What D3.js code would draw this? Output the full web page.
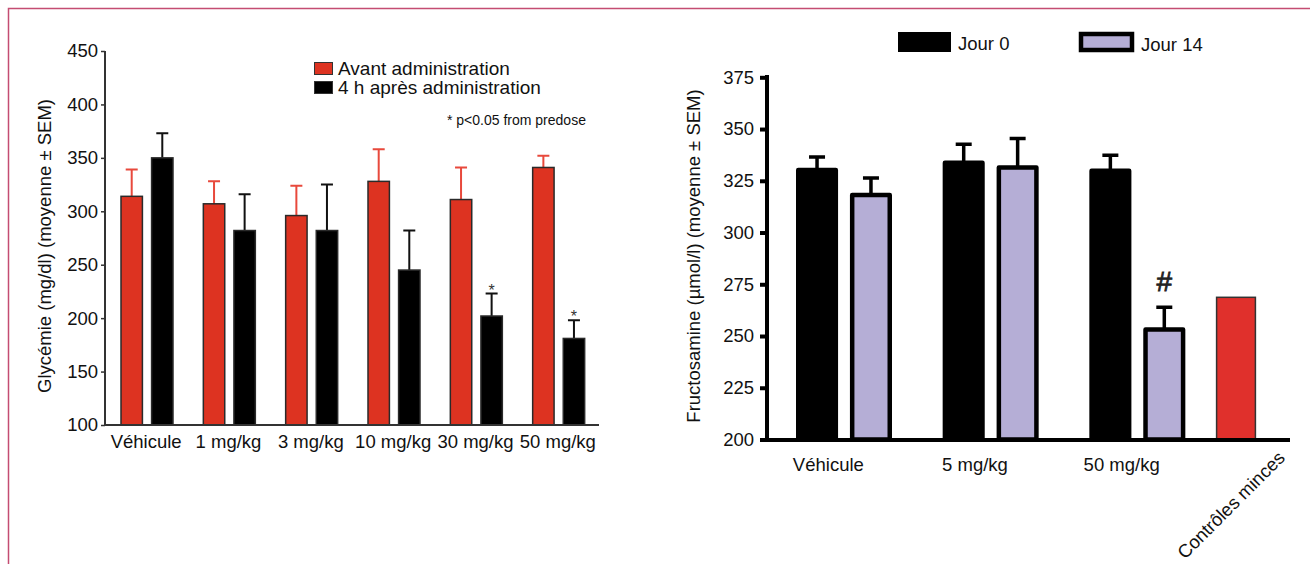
<!DOCTYPE html>
<html>
<head>
<meta charset="utf-8">
<script src="https://cdn.jsdelivr.net/npm/d3@7"></script>
<style>
  html, body { margin: 0; padding: 0; background: #fff; }
  svg { display: block; font-family: "Liberation Sans", Arial, Helvetica, sans-serif; }
</style>
</head>
<body>
<svg id="chart" width="1310" height="564"></svg>
<script>
// ---------- Left chart data ----------
const leftCategories = ["Véhicule", "1 mg/kg", "3 mg/kg", "10 mg/kg", "30 mg/kg", "50 mg/kg"];
const leftSeries = ["Avant administration", "4 h après administration"];
const avantValues = [314, 307, 296, 328, 311, 341];
const avantSem = [25, 21, 28, 30, 30, 11];
const apresValues = [350, 282, 282, 245, 202, 181];
const apresSem = [23, 34, 43, 37, 21, 17];
const apresSignif = [false, false, false, false, true, true];
const leftTicks = [100, 150, 200, 250, 300, 350, 400, 450];
const leftNote = "* p<0.05 from predose";
const leftYTitle = "Glycémie (mg/dl) (moyenne ± SEM)";

// ---------- Right chart data ----------
const rightCategories = ["Véhicule", "5 mg/kg", "50 mg/kg"];
const rightSeries = ["Jour 0", "Jour 14"];
const jour0Values = [330.2, 333.7, 329.9];
const jour0Sem = [6.3, 9, 7.4];
const jour14Values = [318.1, 331.4, 253.1];
const jour14Sem = [8.3, 14, 10.8];
const jour14Signif = [false, false, true];
const controlCategory = ["Contrôles minces"];
const controlValues = [268.7];
const rightTicks = [200, 225, 250, 275, 300, 325, 350, 375];
const rightYTitle = "Fructosamine (µmol/l) (moyenne ± SEM)";

// ---------- Styles ----------
const RED = "#dd3321", RED_ERR = "#e8493c", LAV = "#b5aed6", CTRL_RED = "#e0302c";
const FS = 18.5;

const svg = d3.select("#chart");

// frame border
svg.append("path")
  .attr("d", "M8.5,564 L8.5,8.5 L1310,8.5")
  .attr("fill", "none").attr("stroke", "#c44d72").attr("stroke-width", 1.5);

// =================== LEFT CHART ===================
(function () {
  const y = d3.scaleLinear().domain([100, 450]).range([425, 51]);
  const x0 = d3.scaleBand().domain(leftCategories).range([105, 599]).padding(0);
  const x1 = d3.scaleBand().domain(leftSeries).range([16, 68]).paddingInner(0.3).paddingOuter(0);
  const g = svg.append("g");

  const data = leftCategories.map((c, i) => ({
    cat: c,
    bars: [
      { s: leftSeries[0], v: avantValues[i], e: avantSem[i], fill: RED, err: RED_ERR, sig: false },
      { s: leftSeries[1], v: apresValues[i], e: apresSem[i], fill: "#000", err: "#111", sig: apresSignif[i] }
    ]
  }));

  const grp = g.selectAll("g.grp").data(data).join("g")
    .attr("transform", d => `translate(${x0(d.cat)},0)`);

  grp.selectAll("path.err").data(d => d.bars).join("path")
    .attr("d", b => {
      const cx = x1(b.s) + x1.bandwidth() / 2;
      const yt = y(b.v + b.e), yb = y(b.v);
      return `M${cx},${yb} L${cx},${yt} M${cx - 6},${yt} L${cx + 6},${yt}`;
    })
    .attr("stroke", b => b.err).attr("stroke-width", 2).attr("fill", "none");

  grp.selectAll("rect").data(d => d.bars).join("rect")
    .attr("x", b => x1(b.s))
    .attr("y", b => y(b.v))
    .attr("width", x1.bandwidth())
    .attr("height", b => y(100) - y(b.v))
    .attr("fill", b => b.fill)
    .attr("stroke", "#2a2a2a").attr("stroke-width", 1.5);

  grp.selectAll("text.sig").data(d => d.bars.filter(b => b.sig)).join("text")
    .attr("x", b => x1(b.s) + x1.bandwidth() / 2)
    .attr("y", b => y(b.v + b.e) + 2)
    .attr("text-anchor", "middle").attr("font-size", 16).attr("fill", "#333")
    .text("*");

  const yAxis = g.append("g").attr("transform", "translate(105,0)")
    .call(d3.axisLeft(y).tickValues(leftTicks).tickSize(4).tickPadding(3));
  yAxis.select(".domain").attr("stroke", "#333").attr("stroke-width", 2).attr("d", "M0,51V425");
  yAxis.selectAll(".tick line").attr("stroke", "#333").attr("stroke-width", 1.5);
  yAxis.selectAll("text").attr("font-size", FS).attr("fill", "#111")
    .attr("font-family", "Liberation Sans, Arial, sans-serif");

  const xAxis = g.append("g").attr("transform", "translate(0,425)")
    .call(d3.axisBottom(x0).tickSize(0).tickPadding(10));
  xAxis.select(".domain").attr("stroke", "#333").attr("stroke-width", 2).attr("d", "M105,0H599");
  xAxis.selectAll("text").attr("font-size", FS).attr("fill", "#111")
    .attr("font-family", "Liberation Sans, Arial, sans-serif");

  g.append("text").attr("transform", "translate(51,246) rotate(-90)")
    .attr("text-anchor", "middle").attr("font-size", FS).attr("fill", "#111")
    .text(leftYTitle);

  const lg = g.append("g");
  const legendFills = [RED, "#000"];
  leftSeries.forEach((s, i) => {
    lg.append("rect").attr("x", 314.5).attr("y", 62.5 + i * 19).attr("width", 18).attr("height", 12)
      .attr("fill", legendFills[i]).attr("stroke", "#333").attr("stroke-width", 1);
    lg.append("text").attr("x", 338).attr("y", 74.5 + i * 19)
      .attr("font-size", 19).attr("fill", "#111").text(s);
  });
  g.append("text").attr("x", 447).attr("y", 124.5).attr("font-size", 14).attr("fill", "#111").text(leftNote);
})();

// =================== RIGHT CHART ===================
(function () {
  const y = d3.scaleLinear().domain([200, 375]).range([439.5, 77.3]);
  const x0 = d3.scaleBand().domain(rightCategories).range([770, 1210]).padding(0);
  const x1 = d3.scaleBand().domain(rightSeries).range([26, 122]).paddingInner(0.22).paddingOuter(0);
  const xc = d3.scaleBand().domain(controlCategory).range([1210, 1262]).paddingInner(0).paddingOuter(0.17);
  const g = svg.append("g");
  const SW = 4.5;

  const data = rightCategories.map((c, i) => ({
    cat: c,
    bars: [
      { s: rightSeries[0], v: jour0Values[i], e: jour0Sem[i], fill: "#000", sig: false },
      { s: rightSeries[1], v: jour14Values[i], e: jour14Sem[i], fill: LAV, sig: jour14Signif[i] }
    ]
  }));

  const grp = g.selectAll("g.grp").data(data).join("g")
    .attr("transform", d => `translate(${x0(d.cat)},0)`);

  grp.selectAll("path.err").data(d => d.bars).join("path")
    .attr("d", b => {
      const cx = x1(b.s) + x1.bandwidth() / 2;
      const yt = y(b.v + b.e), yb = y(b.v);
      return `M${cx},${yb} L${cx},${yt} M${cx - 8},${yt} L${cx + 8},${yt}`;
    })
    .attr("stroke", "#000").attr("stroke-width", 3.5).attr("fill", "none");

  grp.selectAll("rect").data(d => d.bars).join("rect")
    .attr("x", b => x1(b.s) + SW / 2)
    .attr("y", b => y(b.v))
    .attr("width", x1.bandwidth() - SW)
    .attr("height", b => y(200) - y(b.v))
    .attr("fill", b => b.fill)
    .attr("stroke", "#000").attr("stroke-width", SW).attr("stroke-linejoin", "round");

  grp.selectAll("text.sig").data(d => d.bars.filter(b => b.sig)).join("text")
    .attr("x", b => x1(b.s) + x1.bandwidth() / 2)
    .attr("y", b => y(b.v + b.e) - 16)
    .attr("text-anchor", "middle").attr("font-size", 28).attr("fill", "#222")
    .attr("stroke", "#222").attr("stroke-width", 0.8)
    .text("#");

  g.selectAll("rect.ctrl").data(controlValues).join("rect")
    .attr("x", (d, i) => xc(controlCategory[i]))
    .attr("y", d => y(d))
    .attr("width", xc.bandwidth())
    .attr("height", d => y(200) - y(d))
    .attr("fill", CTRL_RED).attr("stroke", "#333").attr("stroke-width", 1.5);

  const yAxis = g.append("g").attr("transform", "translate(767,0)")
    .call(d3.axisLeft(y).tickValues(rightTicks).tickSize(7).tickPadding(6));
  yAxis.select(".domain").attr("stroke", "#000").attr("stroke-width", 4).attr("d", "M0,75V442");
  yAxis.selectAll(".tick line").attr("stroke", "#000").attr("stroke-width", 4);
  yAxis.selectAll("text").attr("font-size", FS).attr("fill", "#111")
    .attr("font-family", "Liberation Sans, Arial, sans-serif");

  const xAxis = g.append("g").attr("transform", "translate(0,440)")
    .call(d3.axisBottom(x0).tickSize(0).tickPadding(18));
  xAxis.select(".domain").attr("stroke", "#000").attr("stroke-width", 4).attr("d", "M765,0H1290");
  xAxis.selectAll("text").attr("font-size", FS).attr("fill", "#111").attr("dx", -15)
    .attr("font-family", "Liberation Sans, Arial, sans-serif");

  g.selectAll("text.ctrlLabel").data(controlCategory).join("text")
    .attr("transform", d => `translate(${xc(d) + xc.bandwidth() / 2 + 50},459) rotate(-45)`)
    .attr("text-anchor", "end").attr("font-size", FS).attr("fill", "#111")
    .text(d => d);

  g.append("text").attr("transform", "translate(700,256) rotate(-90)")
    .attr("text-anchor", "middle").attr("font-size", FS).attr("fill", "#111")
    .text(rightYTitle);

  g.append("rect").attr("x", 898).attr("y", 32).attr("width", 53).attr("height", 20).attr("fill", "#000");
  g.append("text").attr("x", 958).attr("y", 49.5).attr("font-size", FS).attr("fill", "#111").text(rightSeries[0]);
  g.append("rect").attr("x", 1081).attr("y", 34).attr("width", 51).attr("height", 16)
    .attr("fill", LAV).attr("stroke", "#000").attr("stroke-width", SW);
  g.append("text").attr("x", 1141).attr("y", 50.5).attr("font-size", FS).attr("fill", "#111").text(rightSeries[1]);
})();
</script>
</body>
</html>
